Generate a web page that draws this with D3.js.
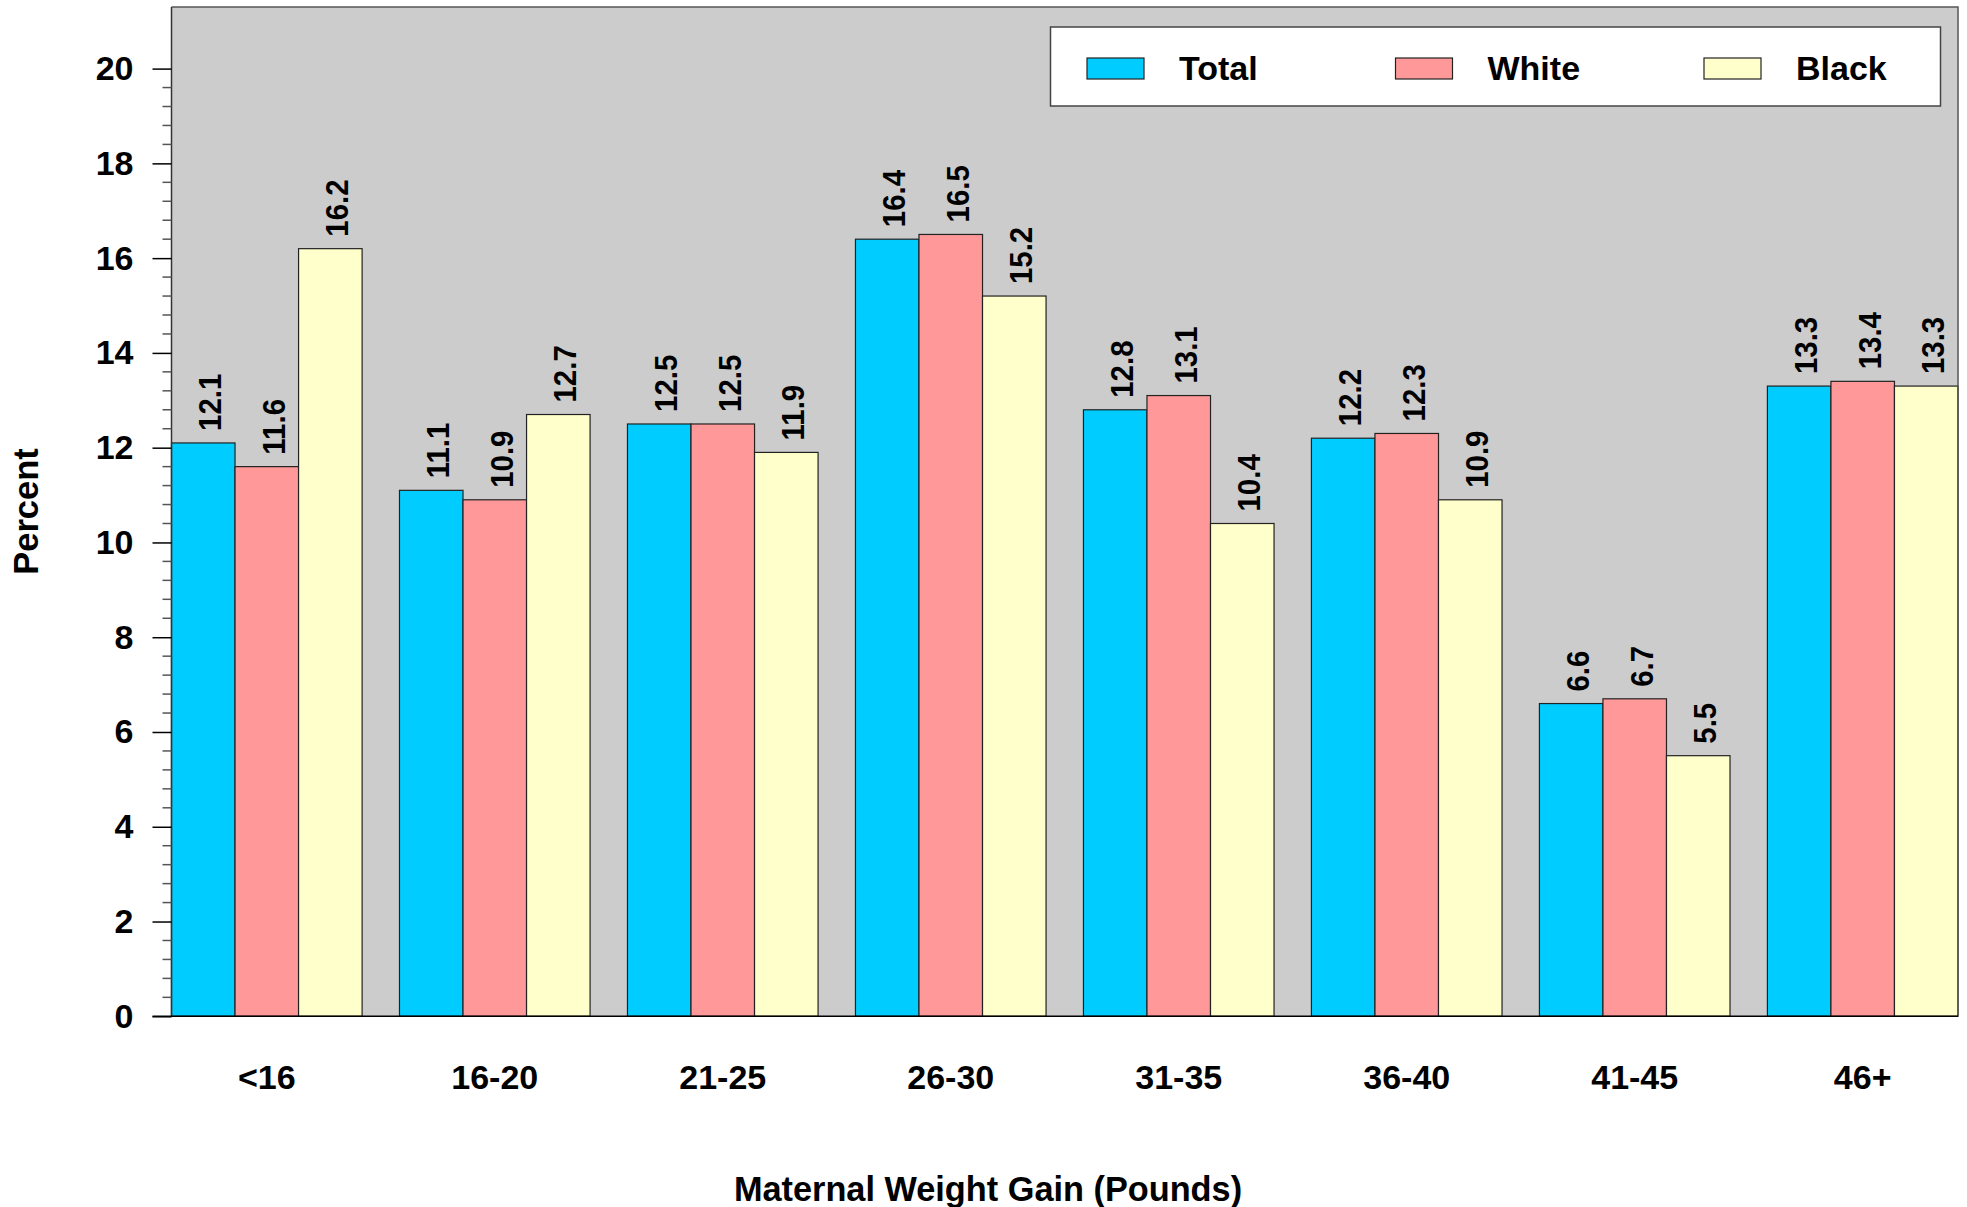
<!DOCTYPE html>
<html>
<head>
<meta charset="utf-8">
<script src="https://cdn.jsdelivr.net/npm/d3@7"></script>
<style>
  html, body { margin: 0; padding: 0; background: #ffffff; }
  svg { display: block; }
  text { font-family: "Liberation Sans", Arial, Helvetica, sans-serif; font-weight: bold; fill: #000; }
</style>
</head>
<body>
<svg id="chart" width="1967" height="1207"></svg>
<script>
const categories = ["<16", "16-20", "21-25", "26-30", "31-35", "36-40", "41-45", "46+"];
const seriesNames = ["Total", "White", "Black"];
const totalValues = [12.1, 11.1, 12.5, 16.4, 12.8, 12.2, 6.6, 13.3];
const whiteValues = [11.6, 10.9, 12.5, 16.5, 13.1, 12.3, 6.7, 13.4];
const blackValues = [16.2, 12.7, 11.9, 15.2, 10.4, 10.9, 5.5, 13.3];
const yTickValues = [0, 2, 4, 6, 8, 10, 12, 14, 16, 18, 20];
const xTitle = "Maternal Weight Gain (Pounds)";
const yTitle = "Percent";

const colors = ["#00CCFF", "#FF9999", "#FFFFCC"];
const seriesValues = [totalValues, whiteValues, blackValues];

const svg = d3.select("#chart");
const L = 171.5, R = 1958, T = 7, B = 1016.3;

const x0 = d3.scaleBand().domain(categories).range([L, R]).paddingInner(0.164).paddingOuter(0);
const x1 = d3.scaleBand().domain(seriesNames).range([0, x0.bandwidth()]).padding(0);
const y = d3.scaleLinear().domain([0, 21.3]).range([B, T]);

// plot background
svg.append("rect").attr("x", L).attr("y", T).attr("width", R - L).attr("height", B - T)
  .attr("fill", "#CCCCCC");

// bars
const groups = svg.append("g").selectAll("g").data(categories).join("g")
  .attr("transform", d => `translate(${x0(d)},0)`);

groups.each(function(cat, ci) {
  const g = d3.select(this);
  seriesNames.forEach((s, si) => {
    const v = seriesValues[si][ci];
    g.append("rect")
      .attr("x", x1(s))
      .attr("y", y(v))
      .attr("width", x1.bandwidth())
      .attr("height", y(0) - y(v))
      .attr("fill", colors[si])
      .attr("stroke", "#222")
      .attr("stroke-width", 1.2);
    const cx = x1(s) + x1.bandwidth() / 2;
    g.append("text")
      .attr("transform", `translate(${cx},${y(v) - 12}) rotate(-90) scale(0.95,1)`)
      .attr("dy", "0.58em")
      .attr("text-anchor", "start")
      .attr("font-size", 31)
      .text(v.toFixed(1));
  });
});

// plot border (top & right)
svg.append("path")
  .attr("d", `M${L},${T}H${R}V${B}`)
  .attr("fill", "none").attr("stroke", "#555").attr("stroke-width", 1.5);

// y axis
const minorTicks = d3.range(0, 20.01, 0.4).filter(v => Math.abs(v / 2 - Math.round(v / 2)) > 1e-6);
const yAxisG = svg.append("g").attr("transform", `translate(${L},0)`);
yAxisG.append("line").attr("x1", 0).attr("x2", 0).attr("y1", T).attr("y2", B)
  .attr("stroke", "#333").attr("stroke-width", 1.5);
yAxisG.selectAll("line.minor").data(minorTicks).join("line").attr("class", "minor")
  .attr("x1", -9).attr("x2", 0).attr("y1", d => y(d)).attr("y2", d => y(d))
  .attr("stroke", "#555").attr("stroke-width", 1.5);
const yAxis = d3.axisLeft(y).tickValues(yTickValues).tickSize(19).tickPadding(19).tickFormat(d3.format("d"));
const ya = yAxisG.append("g").call(yAxis);
ya.select(".domain").remove();
ya.selectAll(".tick line").attr("stroke", "#000").attr("stroke-width", 1.5);
ya.selectAll(".tick text").attr("font-size", 34).attr("font-family", "Liberation Sans, Arial, sans-serif")
  .attr("font-weight", "bold").attr("fill", "#000");

// x axis line
svg.append("line").attr("x1", L - 19).attr("x2", R).attr("y1", B).attr("y2", B)
  .attr("stroke", "#000").attr("stroke-width", 1.5);

// x labels
const xAxis = d3.axisBottom(x0).tickSize(0).tickPadding(0);
const xa = svg.append("g").attr("transform", `translate(0,${B})`).call(xAxis);
xa.select(".domain").remove();
xa.selectAll(".tick text").attr("y", 73).attr("dy", 0).attr("font-size", 34)
  .attr("font-family", "Liberation Sans, Arial, sans-serif").attr("font-weight", "bold").attr("fill", "#000");

// axis titles
svg.append("text").attr("x", 988).attr("y", 1201).attr("text-anchor", "middle")
  .attr("font-size", 34.3).text(xTitle);
svg.append("text").attr("transform", `translate(38,511.5) rotate(-90)`)
  .attr("text-anchor", "middle").attr("font-size", 34.5).text(yTitle);

// legend
svg.append("rect").attr("x", 1050.5).attr("y", 27).attr("width", 890).attr("height", 79)
  .attr("fill", "#fff").attr("stroke", "#444").attr("stroke-width", 1.5);
const lg = svg.append("g").selectAll("g").data(seriesNames).join("g")
  .attr("transform", (d, i) => `translate(${1087 + i * 308.5},0)`);
lg.append("rect").attr("x", 0).attr("y", 58).attr("width", 57).attr("height", 21)
  .attr("fill", (d, i) => colors[i]).attr("stroke", "#222").attr("stroke-width", 1.2);
lg.append("text").attr("x", 92).attr("y", 80).attr("font-size", 34).text(d => d);
</script>
</body>
</html>
